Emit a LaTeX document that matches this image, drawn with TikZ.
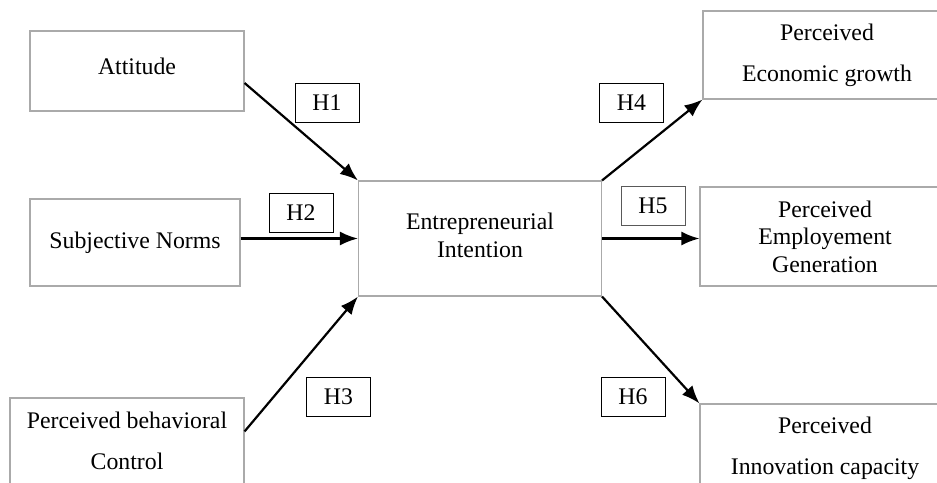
\documentclass[tikz,border=0pt]{standalone}
\usepackage{fontspec}
\setmainfont{Liberation Serif}
\usetikzlibrary{arrows.meta,positioning,calc}
\definecolor{BoxGray}{RGB}{170,170,170}

\begin{document}
\begin{tikzpicture}[x=1pt, y=-1pt,
    varbox/.style={draw=BoxGray, line width=1.1pt, align=center, inner sep=0pt,
      font=\fontsize{23.8}{27.5}\selectfont},
    widebox/.style={varbox, font=\fontsize{23.8}{41}\selectfont},
    hbox/.style={draw=black, line width=0.9pt, minimum width=64pt, minimum height=39pt,
      inner sep=0pt, font=\fontsize{23.8}{27}\selectfont},
    link/.style={-{Latex[length=18pt,width=14pt]}, line width=2.2pt}]
      \useasboundingbox (0,0) rectangle (937,482);
      \clip (0,0) rectangle (937,482);
      % antecedents
      \node[varbox, minimum width=214pt, minimum height=80pt] (att) at (137,71) {\raisebox{5pt}[\height][\depth]{Attitude}};
      \node[varbox, minimum width=210pt, minimum height=87pt] (sn) at (135,242.5) {Subjective Norms};
      \node[widebox, minimum width=234pt, minimum height=86pt] (pbc) at (127,441) {Perceived behavioral\\Control};
      % mediator
      \node[varbox, minimum width=243pt, minimum height=115pt] (ei) at (480,238.5) {\raisebox{3pt}[\height][\depth]{Entrepreneurial}\\\raisebox{3pt}[\height][\depth]{Intention}};
      % outcomes
      \node[widebox, minimum width=248pt, minimum height=88pt] (eco) at (827,55) {Perceived\\Economic growth};
      \node[varbox, minimum width=250pt, minimum height=99pt] (emp) at (825,236.5) {Perceived\\Employement\\Generation};
      \node[widebox, minimum width=250pt, minimum height=88pt] (inn) at (825,448) {Perceived\\Innovation capacity};
      % hypotheses
      \node[hbox] (h1) at (327,102.5) {H1};
      \node[hbox] (h2) at (301,212.5) {H2};
      \node[hbox] (h3) at (338.5,397) {H3};
      \node[hbox] (h4) at (631.5,102.5) {H4};
      \node[hbox, draw=black!65] (h5) at (653,205.5) {H5};
      \node[hbox] (h6) at (633,397) {H6};
      \draw[link] ([yshift=-12pt]att.east) -- (ei.north west);
      \draw[link] (sn.east |- ei.west) -- (ei.west);
      \draw[link] ([yshift=-34pt]pbc.north east) -- (ei.south west);
      \draw[link] (ei.north east) -- (eco.south west);
      \draw[link] (ei.east) -- (emp.west |- ei.east);
      \draw[link] (ei.south east) -- (inn.north west);
    \end{tikzpicture}
\end{document}
